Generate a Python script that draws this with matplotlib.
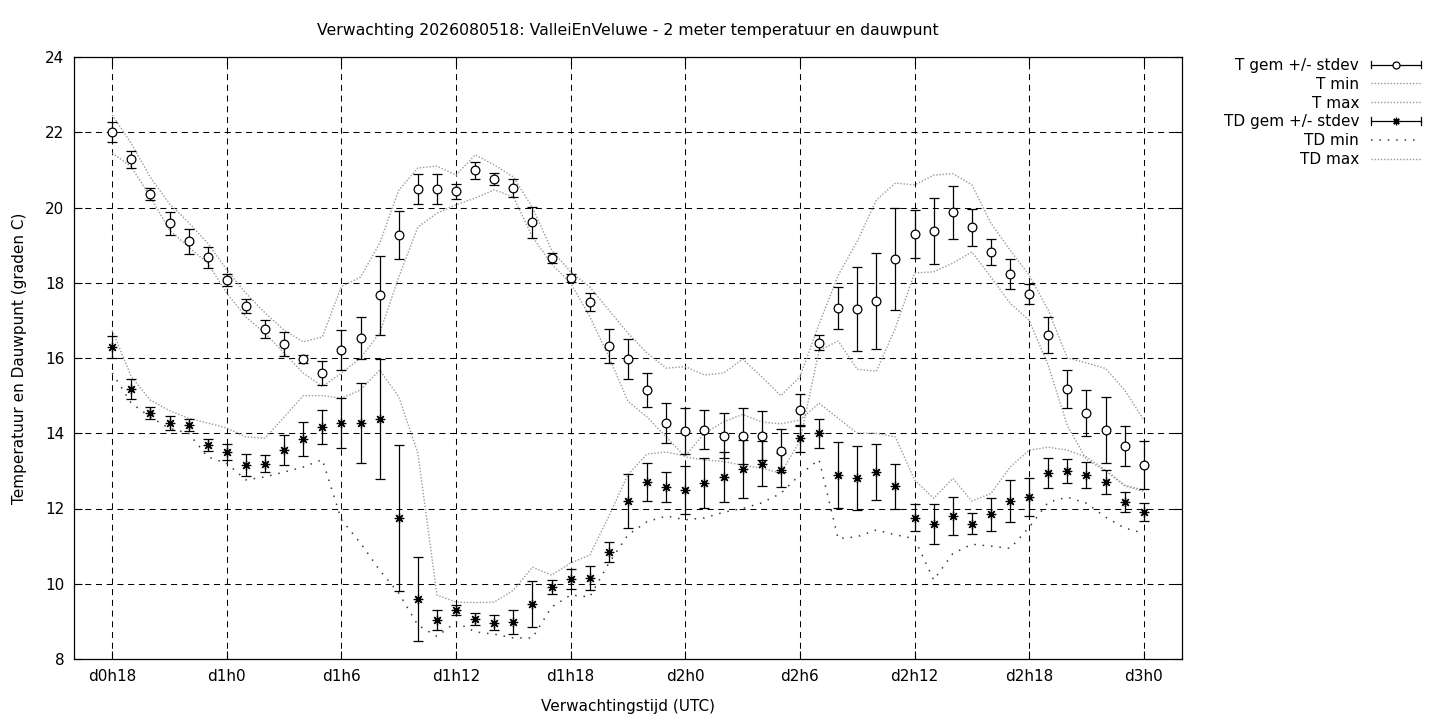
import numpy as np
import matplotlib
matplotlib.use("Agg")
import matplotlib.pyplot as plt
from matplotlib.lines import Line2D
from matplotlib.legend_handler import HandlerBase
from matplotlib.container import ErrorbarContainer

# forecast hours since run (d0h18 .. d3h0)
hours = np.arange(18, 73)

t_mean = [22.0, 21.28, 20.35, 19.58, 19.1, 18.68, 18.07, 17.38, 16.77, 16.37, 15.97, 15.6,
          16.21, 16.53, 17.67, 19.27, 20.49, 20.49, 20.43, 20.99, 20.76, 20.52,
          19.61, 18.66, 18.13, 17.49, 16.32, 15.97, 15.15, 14.27, 14.06, 14.09,
          13.93, 13.93, 13.93, 13.53, 14.62, 16.4, 17.33, 17.3, 17.51, 18.63,
          19.29, 19.37, 19.87, 19.47, 18.81, 18.23, 17.7, 16.61, 15.18, 14.54,
          14.09, 13.66, 13.16]
t_std = [0.27, 0.22, 0.16, 0.31, 0.34, 0.28, 0.16, 0.19, 0.23, 0.32, 0.11, 0.32,
         0.53, 0.55, 1.05, 0.65, 0.4, 0.4, 0.2, 0.23, 0.17, 0.24,
         0.41, 0.13, 0.1, 0.23, 0.45, 0.53, 0.45, 0.53, 0.6, 0.52,
         0.6, 0.75, 0.65, 0.57, 0.42, 0.2, 0.56, 1.12, 1.28, 1.36,
         0.64, 0.88, 0.7, 0.48, 0.35, 0.4, 0.27, 0.48, 0.5, 0.61,
         0.87, 0.53, 0.63]
t_min = [21.45, 21.08, 20.28, 19.4, 18.95, 18.52, 17.72, 17.09, 16.66, 16.13, 15.6, 15.24,
         15.6, 16.0, 16.66, 18.15, 19.48, 19.85, 20.07, 20.25, 20.47, 20.28,
         19.22, 18.5, 17.99, 17.1, 16.03, 14.85, 14.43, 13.9, 13.37, 13.29,
         13.25, 13.15, 13.07, 12.94, 13.8, 16.2, 16.45, 15.7, 15.65, 16.8,
         18.26, 18.29, 18.52, 18.82, 18.15, 17.46, 17.0, 15.8, 14.2, 13.3,
         13.0, 12.6, 12.45]
t_max = [22.46, 21.7, 20.8, 20.1, 19.6, 19.05, 18.34, 17.72, 17.2, 16.74, 16.43, 16.56,
         17.9, 18.15, 19.05, 20.46, 21.05, 21.1, 20.86, 21.4, 21.13, 20.81,
         20.0, 18.87, 18.29, 17.89, 17.27, 16.66, 16.13, 15.73, 15.77, 15.55,
         15.6, 15.97, 15.5, 15.0, 15.5, 16.9, 18.2, 19.1, 20.2, 20.65,
         20.6, 20.86, 20.9, 20.6, 19.58, 18.87, 18.2, 17.27, 16.0, 15.87,
         15.72, 15.15, 14.35]

td_mean = [16.29, 15.18, 14.54, 14.27, 14.22, 13.69, 13.5, 13.16, 13.19, 13.55, 13.85, 14.16,
           14.27, 14.27, 14.38, 11.75, 9.6, 9.04, 9.3, 9.06, 8.96, 8.98,
           9.46, 9.91, 10.12, 10.15, 10.84, 12.19, 12.7, 12.57, 12.49, 12.68,
           12.84, 13.05, 13.19, 13.02, 13.87, 14.0, 12.89, 12.81, 12.97, 12.59,
           11.75, 11.59, 11.8, 11.59, 11.85, 12.19, 12.31, 12.95, 12.99, 12.89,
           12.7, 12.17, 11.91]
td_std = [0.29, 0.26, 0.16, 0.19, 0.16, 0.16, 0.21, 0.29, 0.23, 0.4, 0.46, 0.45,
          0.67, 1.07, 1.59, 1.94, 1.11, 0.27, 0.13, 0.16, 0.2, 0.31,
          0.6, 0.18, 0.27, 0.31, 0.27, 0.72, 0.5, 0.41, 0.64, 0.67,
          0.67, 0.78, 0.6, 0.45, 0.36, 0.38, 0.88, 0.84, 0.75, 0.59,
          0.36, 0.53, 0.5, 0.28, 0.44, 0.56, 0.5, 0.4, 0.32, 0.35,
          0.32, 0.27, 0.24]
td_min = [15.6, 14.8, 14.43, 14.13, 14.0, 13.37, 13.2, 12.76, 12.84, 12.97, 13.1, 13.3,
          11.7, 11.08, 10.36, 9.75, 8.9, 8.6, 8.98, 8.72, 8.66, 8.56,
          8.56, 9.38, 9.7, 9.65, 10.55, 11.3, 11.65, 11.8, 11.7, 11.75,
          11.9, 12.0, 12.15, 12.4, 12.9, 13.3, 11.2, 11.25, 11.43, 11.3,
          11.2, 10.1, 10.8, 11.05, 11.0, 10.94, 11.5, 12.17, 12.3, 12.14,
          11.77, 11.48, 11.34]
td_max = [16.74, 15.5, 14.88, 14.6, 14.4, 14.27, 14.14, 13.9, 13.87, 14.43, 15.0, 15.0,
          14.93, 15.15, 15.68, 14.97, 13.47, 9.7, 9.51, 9.5, 9.51, 9.83,
          10.44, 10.23, 10.55, 10.76, 11.8, 12.9, 13.45, 13.5, 13.4, 14.0,
          14.3, 14.5, 14.3, 14.25, 14.35, 14.8, 14.4, 14.0, 14.0, 13.9,
          12.76, 12.27, 12.8, 12.2, 12.4, 13.1, 13.55, 13.63, 13.55, 13.37,
          13.02, 12.62, 12.49]

tick_hours = [18, 24, 30, 36, 42, 48, 54, 60, 66, 72]
tick_labels = ["d0h18", "d1h0", "d1h6", "d1h12", "d1h18",
               "d2h0", "d2h6", "d2h12", "d2h18", "d3h0"]


class GnuplotErrorKey(HandlerBase):
    """Key sample like gnuplot: |---o---| with the point in the middle."""

    def create_artists(self, legend, orig_handle, xdescent, ydescent,
                       width, height, fontsize, trans):
        data_line = orig_handle.lines[0]
        y = height / 2 - ydescent
        x0, x1 = -xdescent, width - xdescent
        cap = 0.35 * height
        arts = [Line2D([x0, x1], [y, y], color="black", lw=0.9),
                Line2D([x0, x0], [y - cap, y + cap], color="black", lw=0.9),
                Line2D([x1, x1], [y - cap, y + cap], color="black", lw=0.9),
                Line2D([(x0 + x1) / 2], [y], linestyle="none",
                       marker=data_line.get_marker(),
                       markersize=data_line.get_markersize() * 0.8,
                       markerfacecolor=data_line.get_markerfacecolor(),
                       markeredgecolor=data_line.get_markeredgecolor(),
                       markeredgewidth=data_line.get_markeredgewidth())]
        for a in arts:
            a.set_transform(trans)
        return arts


plt.rcParams["font.family"] = "DejaVu Sans"
plt.rcParams["font.size"] = 11

fig = plt.figure(figsize=(14.4, 7.2), dpi=100)
ax = fig.add_axes([74 / 1440, 1 - 659 / 720, (1182 - 74) / 1440, (659 - 57) / 720])

grid_style = dict(color="black", lw=0.75, linestyle=(0, (5.8, 4.5)))
for h in tick_hours:
    ax.axvline(h, zorder=0, **grid_style)
for v in range(8, 25, 2):
    ax.axhline(v, zorder=0, **grid_style)

light = "#9a9a9a"
eb_t = ax.errorbar(hours, t_mean, yerr=t_std, fmt="o", color="black", ecolor="black",
                   elinewidth=0.9, capsize=3.6, capthick=0.9, markersize=6.3,
                   markerfacecolor="white", markeredgecolor="black", markeredgewidth=0.9,
                   zorder=3)
l_tmin, = ax.plot(hours, t_min, color=light, lw=1.0, linestyle=(0, (1, 1.3)), zorder=2)
l_tmax, = ax.plot(hours, t_max, color=light, lw=1.0, linestyle=(0, (1, 1.3)), zorder=2)
eb_td = ax.errorbar(hours, td_mean, yerr=td_std, fmt="none", ecolor="black",
                    elinewidth=0.9, capsize=3.6, capthick=0.9, zorder=3)
pts_td, = ax.plot(hours, td_mean, linestyle="none", marker=(8, 2, 0), markersize=6.8,
                  color="black", markeredgewidth=0.9, zorder=4)
eb_td.lines = (pts_td,) + tuple(eb_td.lines[1:])
l_tdmin, = ax.plot(hours, td_min, color="#3a3a3a", lw=1.1, linestyle=(0, (1, 4.5)), zorder=2)
l_tdmax, = ax.plot(hours, td_max, color=light, lw=1.0, linestyle=(0, (1, 1.3)), zorder=2)

ax.set_xlim(16, 74)
ax.set_ylim(8, 24)
ax.set_xticks(tick_hours)
ax.set_xticklabels(tick_labels)
ax.set_yticks(range(8, 25, 2))
ax.tick_params(direction="in", length=6, width=0.8, top=True, right=True)
ax.tick_params(axis="y", pad=7)
ax.tick_params(axis="x", pad=7)
for s in ax.spines.values():
    s.set_linewidth(0.9)

ax.set_title("Verwachting 2026080518: ValleiEnVeluwe - 2 meter temperatuur en dauwpunt",
             fontsize=11.3, pad=16)
ax.set_xlabel("Verwachtingstijd (UTC)", labelpad=11)
ax.set_ylabel("Temperatuur en Dauwpunt (graden C)", labelpad=13)

handles = [eb_t, l_tmin, l_tmax, eb_td, l_tdmin, l_tdmax]
labels = ["T gem +/- stdev", "T min", "T max", "TD gem +/- stdev", "TD min", "TD max"]
fig.legend(handles, labels, loc="upper right", bbox_to_anchor=(1421 / 1440, 1 - 58 / 720),
           frameon=False, markerfirst=False, handlelength=3.3, handletextpad=0.75,
           labelspacing=0.25, borderpad=0, borderaxespad=0,
           handler_map={ErrorbarContainer: GnuplotErrorKey()})

fig.savefig("out.png", dpi=100)
